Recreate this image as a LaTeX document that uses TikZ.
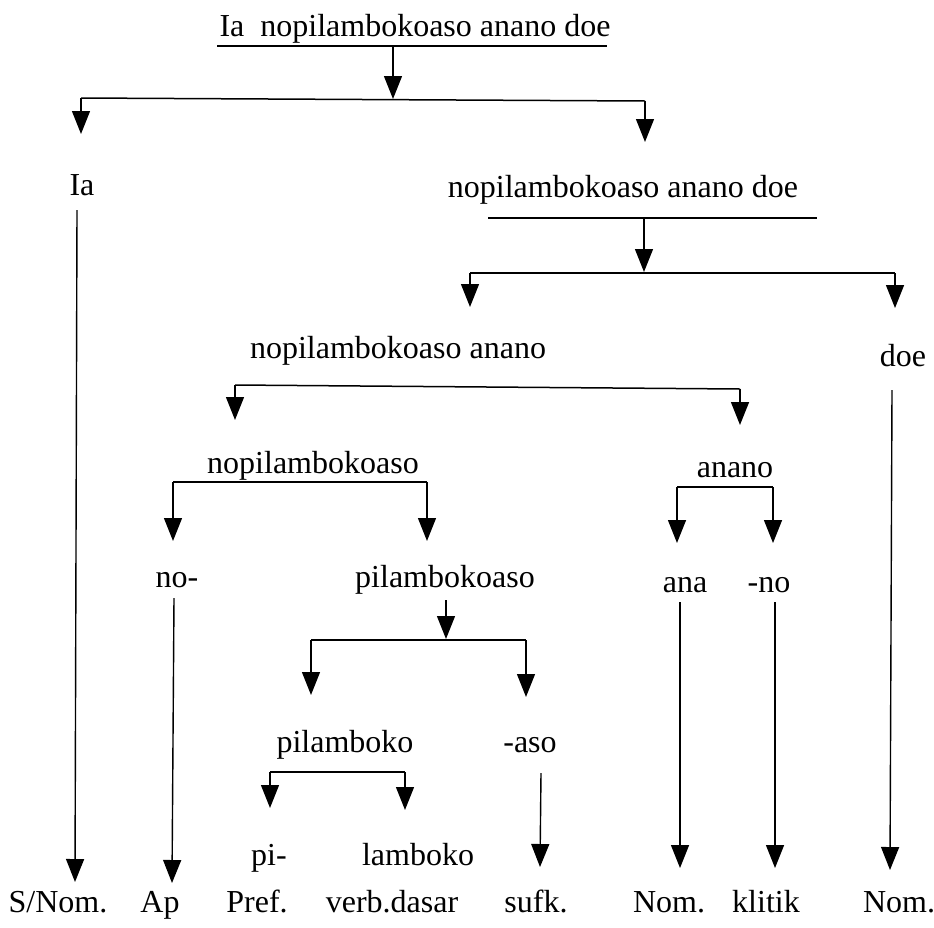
\documentclass[tikz,border=0pt]{standalone}
\usepackage{fontspec}
\setmainfont{Liberation Serif}
\usetikzlibrary{arrows.meta}
\tikzset{
  lbl/.style={inner sep=0pt, anchor=base, font=\fontsize{32}{38}\selectfont},
  ln/.style={line width=1.5pt},
  arr/.style={line width=1.4pt, -{Triangle[width=18pt,length=23pt]}},
}
\begin{document}
\begin{tikzpicture}[x=1pt,y=-1pt]
\useasboundingbox (0,0) rectangle (934,927);
% text nodes
\node[lbl] (t0) at (415,36) {Ia\ \ nopilambokoaso anano doe};
\node[lbl] (ia) at (82,195) {Ia};
\node[lbl] (n2) at (623,197) {nopilambokoaso anano doe};
\node[lbl] (n3) at (398,358) {nopilambokoaso anano};
\node[lbl] (doe) at (903,366) {doe};
\node[lbl] (n4) at (313,473) {nopilambokoaso};
\node[lbl] (n5) at (735,477) {anano};
\node[lbl] (no) at (177,587) {no-};
\node[lbl] (pk) at (445,587) {pilambokoaso};
\node[lbl] (ana) at (685,592) {ana};
\node[lbl] (mno) at (769,592) {-no};
\node[lbl] (pl) at (345,752) {pilamboko};
\node[lbl] (aso) at (530,752) {-aso};
\node[lbl] (pi) at (269,865) {pi-};
\node[lbl] (lb) at (418,865) {lamboko};
\node[lbl] (b1) at (58,912) {S/Nom.};
\node[lbl] (b2) at (160,912) {Ap};
\node[lbl] (b3) at (257,912) {Pref.};
\node[lbl] (b4) at (392,912) {verb.dasar};
\node[lbl] (b5) at (536,912) {sufk.};
\node[lbl] (b6) at (669,912) {Nom.};
\node[lbl] (b7) at (766,912) {klitik};
\node[lbl] (b8) at (899,912) {Nom.};
% coordinates
\coordinate (u0L) at (217,46); \coordinate (u0R) at (607,46);
\coordinate (u0M) at (393,46); \coordinate (h1M) at (393,99);
\coordinate (h1L) at (81,98); \coordinate (h1R) at (645,101);
\coordinate (h1Lt) at (81,134); \coordinate (h1Rt) at (645,142);
\coordinate (iaS) at (77,210); \coordinate (iaT) at (75,882);
\coordinate (u2L) at (488,218); \coordinate (u2R) at (817,218);
\coordinate (u2M) at (644,218); \coordinate (h2M) at (644,272);
\coordinate (h2L) at (470,273); \coordinate (h2R) at (895,273);
\coordinate (h2Lt) at (470,307); \coordinate (h2Rt) at (895,308);
\coordinate (h3L) at (235,385); \coordinate (h3R) at (740,389);
\coordinate (h3Lt) at (235,420); \coordinate (h3Rt) at (740,425);
\coordinate (doeS) at (892,390); \coordinate (doeT) at (890,870);
\coordinate (h4L) at (173,482); \coordinate (h4R) at (427,482);
\coordinate (h4Lt) at (173,541); \coordinate (h4Rt) at (427,541);
\coordinate (h5L) at (677,487); \coordinate (h5R) at (773,487);
\coordinate (h5Lt) at (677,543); \coordinate (h5Rt) at (773,543);
\coordinate (noS) at (174,598); \coordinate (noT) at (172,883);
\coordinate (pkS) at (446,600); \coordinate (h6M) at (446,639);
\coordinate (h6L) at (311,640); \coordinate (h6R) at (526,640);
\coordinate (h6Lt) at (311,695); \coordinate (h6Rt) at (526,697);
\coordinate (anaS) at (680,602); \coordinate (anaT) at (680,868);
\coordinate (mnoS) at (775,602); \coordinate (mnoT) at (775,868);
\coordinate (h7L) at (270,772); \coordinate (h7R) at (405,772);
\coordinate (h7Lt) at (270,808); \coordinate (h7Rt) at (405,810);
\coordinate (asoS) at (541,773); \coordinate (asoT) at (540,867);
% lines
\draw[ln] (u0L) -- (u0R);
\draw[arr] (u0M) -- (h1M);
\draw[ln] (h1L) -- (h1R);
\draw[arr] (h1L) -- (h1Lt);
\draw[arr] (h1R) -- (h1Rt);
\draw[arr] (iaS) -- (iaT);
\draw[ln] (u2L) -- (u2R);
\draw[arr] (u2M) -- (h2M);
\draw[ln] (h2L) -- (h2R);
\draw[arr] (h2L) -- (h2Lt);
\draw[arr] (h2R) -- (h2Rt);
\draw[ln] (h3L) -- (h3R);
\draw[arr] (h3L) -- (h3Lt);
\draw[arr] (h3R) -- (h3Rt);
\draw[arr] (doeS) -- (doeT);
\draw[ln] (h4L) -- (h4R);
\draw[arr] (h4L) -- (h4Lt);
\draw[arr] (h4R) -- (h4Rt);
\draw[ln] (h5L) -- (h5R);
\draw[arr] (h5L) -- (h5Lt);
\draw[arr] (h5R) -- (h5Rt);
\draw[arr] (noS) -- (noT);
\draw[arr] (pkS) -- (h6M);
\draw[ln] (h6L) -- (h6R);
\draw[arr] (h6L) -- (h6Lt);
\draw[arr] (h6R) -- (h6Rt);
\draw[arr] (anaS) -- (anaT);
\draw[arr] (mnoS) -- (mnoT);
\draw[ln] (h7L) -- (h7R);
\draw[arr] (h7L) -- (h7Lt);
\draw[arr] (h7R) -- (h7Rt);
\draw[arr] (asoS) -- (asoT);
\end{tikzpicture}
\end{document}
